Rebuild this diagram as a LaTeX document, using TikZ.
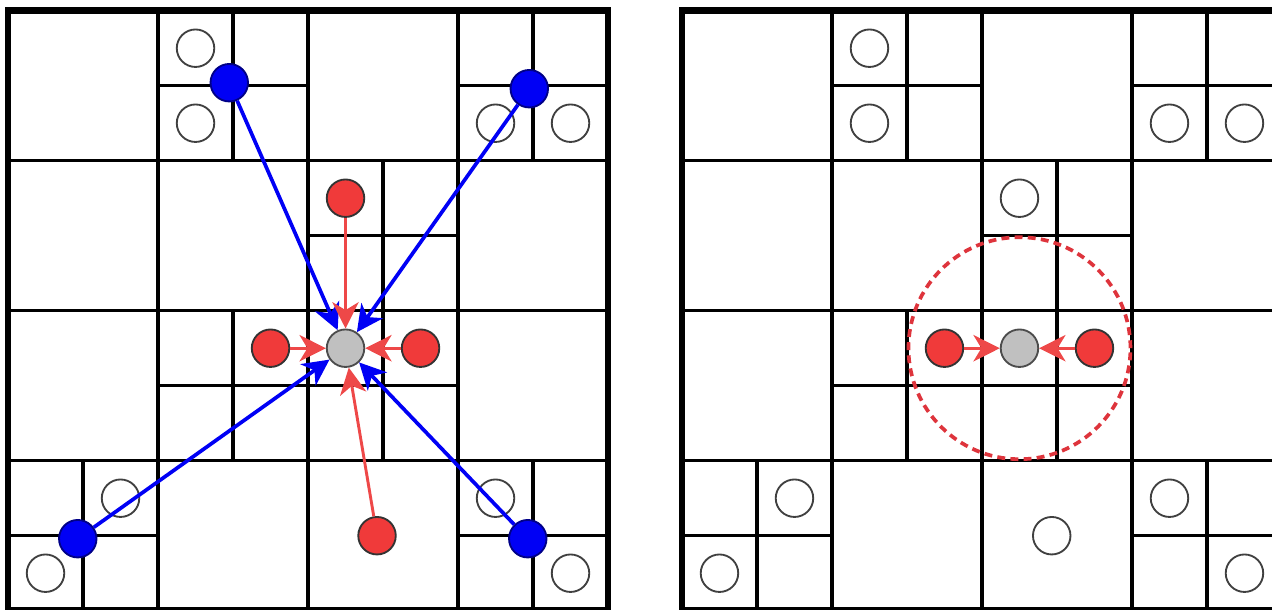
\documentclass[tikz,border=0pt]{standalone}
\usepackage{tikz}
\usetikzlibrary{positioning, arrows.meta}

\definecolor{ptblue}{RGB}{0,0,245}
\definecolor{ptred}{RGB}{240,58,58}
\definecolor{ptgrey}{RGB}{192,192,192}
\definecolor{linkred}{RGB}{238,72,72}
\definecolor{cutred}{RGB}{222,52,60}

\tikzset{
    border/.style={draw, line width=2.5pt},
    cell/.style={draw, line width=1.3pt},
    particle/.style={circle, draw=black!80, line width=0.7pt, minimum size=0.5cm, inner sep=0pt},
    emptypt/.style={particle, draw=black!75},
    farpt/.style={particle, fill=ptblue, draw=ptblue!55!black},
    nearpt/.style={particle, fill=ptred, draw=black!80},
    targetpt/.style={particle, fill=ptgrey, draw=black!70},
    farlink/.style={draw=ptblue, line width=1.4pt, -{Stealth[length=10pt, width=10pt, inset=3pt]}},
    nearlink/.style={draw=linkred, line width=1.1pt, -{Stealth[length=10pt, width=10pt, inset=3pt]}},
    cutoff/.style={draw=cutred, line width=1.4pt, dash pattern=on 3pt off 2pt}
}

\begin{document}
\begin{tikzpicture}
    \clip (0,0) rectangle (16.96,8.133);
    \fill[white] (0,0) rectangle (16.96,8.133);

    % the same quadtree on both sides
    \foreach \ox in {0.107, 9.093} {
        \begin{scope}[xshift=\ox cm, yshift=-0.01cm]
            \foreach \k in {2,4,6} {
                \draw[cell] (\k,0) -- (\k,8);
                \draw[cell] (0,\k) -- (8,\k);
            }
            \foreach \cx/\cy in {3/7, 7/7, 5/5, 3/3, 5/3, 1/1, 7/1}
                \draw[cell] (\cx-1,\cy) -- (\cx+1,\cy) (\cx,\cy-1) -- (\cx,\cy+1);
            \draw[border] (0,0) rectangle (8,8);
        \end{scope}
    }

    % left: far cells and near neighbours
    \begin{scope}[xshift=0.107cm, yshift=-0.01cm]
        \foreach \px/\py [count=\i] in {2.5/7.5, 2.5/6.5, 6.5/6.5, 7.5/6.5, 1.5/1.5, 0.5/0.5, 6.5/1.5, 7.5/0.5}
            \node[emptypt] (le\i) at (\px,\py) {};
        \node[farpt] (lfa) at (2.95,7.04) {};
        \node[farpt] (lfb) at (6.95,6.96) {};
        \node[farpt] (lfc) at (0.93,0.96) {};
        \node[farpt] (lfd) at (6.93,0.96) {};
        \node[targetpt] (lt) at (4.5,3.5) {};
        \node[nearpt] (lna) at (4.5,5.5) {};
        \node[nearpt] (lnb) at (3.5,3.5) {};
        \node[nearpt] (lnc) at (5.5,3.5) {};
        \node[nearpt] (lnd) at (4.92,1.0) {};
    \end{scope}

    \foreach \s in {lfa, lfb, lfc, lfd}
        \draw[farlink] (\s) -- (lt);
    \foreach \s in {lna, lnb, lnc, lnd}
        \draw[nearlink] (\s) -- (lt);

    % right: only the neighbours inside the cutoff
    \begin{scope}[xshift=9.093cm, yshift=-0.01cm]
        \foreach \px/\py [count=\i] in {2.5/7.5, 2.5/6.5, 6.5/6.5, 7.5/6.5, 4.5/5.5, 1.5/1.5, 0.5/0.5, 6.5/1.5, 7.5/0.5, 4.93/1.0}
            \node[emptypt] (re\i) at (\px,\py) {};
        \node[targetpt] (rt) at (4.5,3.5) {};
        \node[nearpt] (rnb) at (3.5,3.5) {};
        \node[nearpt] (rnc) at (5.5,3.5) {};
        \draw[cutoff] (rt.center) circle (1.48);
    \end{scope}

    \draw[nearlink] (rnb) -- (rt);
    \draw[nearlink] (rnc) -- (rt);
\end{tikzpicture}
\end{document}
